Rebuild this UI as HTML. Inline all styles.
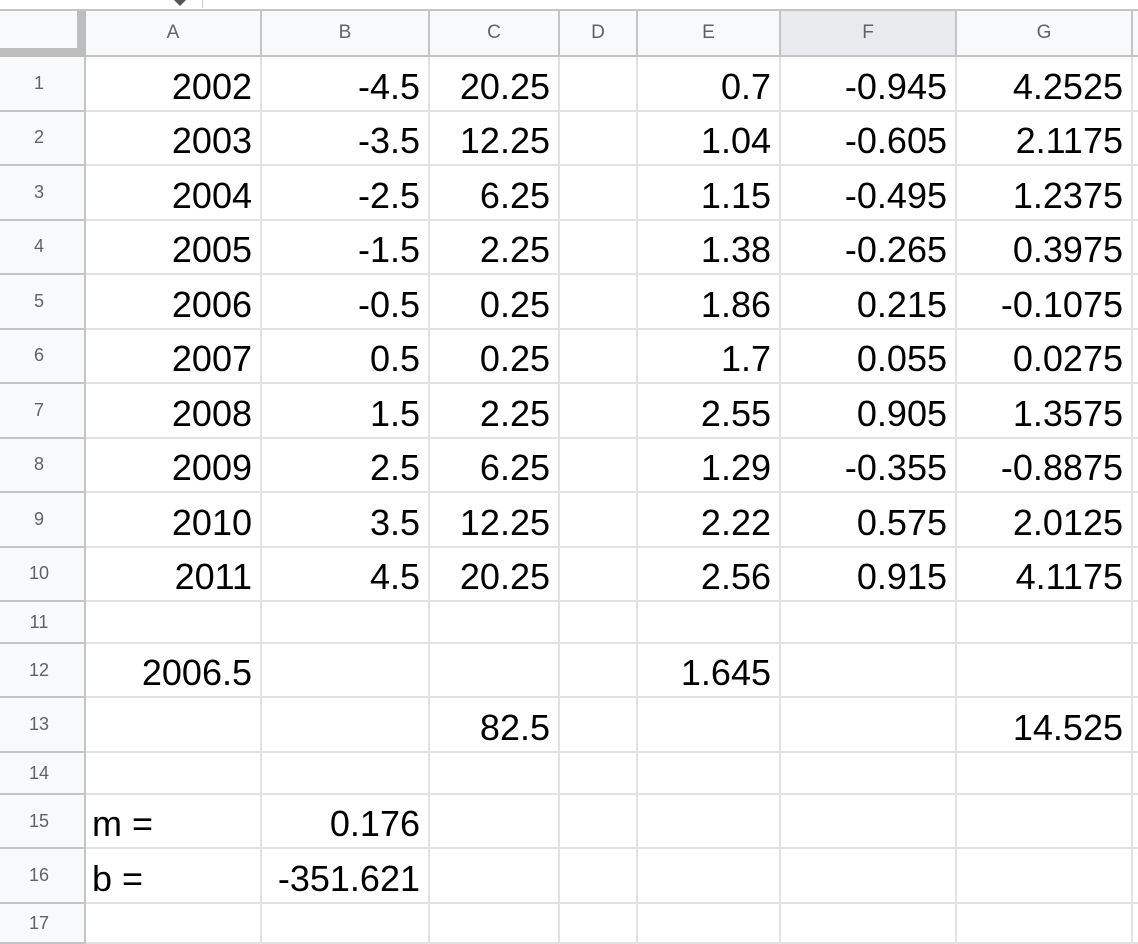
<!DOCTYPE html>
<html><head><meta charset="utf-8">
<style>
html,body{margin:0;padding:0;background:#fff;}
body{width:1138px;height:926px;overflow:hidden;position:relative;font-family:"Liberation Sans",Arial,sans-serif;}
.c{position:absolute;box-sizing:border-box;border-right:2px solid #e2e2e2;border-bottom:2px solid #e2e2e2;}
.v{position:absolute;right:8px;bottom:3px;font-size:36px;color:#000;line-height:40px;white-space:nowrap;}
.v.l{right:auto;left:6px;}
.h{position:absolute;box-sizing:border-box;background:#f8f9fa;border-right:2px solid #c4c4c4;border-bottom:2px solid #c4c4c4;color:#5f6368;font-size:19px;display:flex;align-items:center;justify-content:center;}
.r{position:absolute;box-sizing:border-box;background:#f8f9fa;border-bottom:2px solid #c4c4c4;color:#5f6368;font-size:18px;display:flex;align-items:center;justify-content:center;}
</style></head>
<body>
<div style="position:absolute;left:0;top:0;width:1138px;height:9px;background:#fff;border-bottom:2px solid #c4c4c4;"></div>
<div style="position:absolute;left:174px;top:0;width:0;height:0;border-left:6px solid transparent;border-right:6px solid transparent;border-top:6px solid #555;"></div>
<div style="position:absolute;left:202px;top:0;width:1px;height:8px;background:#ccc;"></div>
<div id="grid"></div>
<script>
const colEdges=[86,262,430,560,638,781,957,1133,1160];
const colLetters=['A','B','C','D','E','F','G',''];
const rowHeights=[54.5,54.5,54.5,54.5,54.5,54.5,54.5,54.5,54.5,54.5,42,54,55,42,54,55,40];
const cells={
1:['2002','-4.5','20.25','','0.7','-0.945','4.2525'],
2:['2003','-3.5','12.25','','1.04','-0.605','2.1175'],
3:['2004','-2.5','6.25','','1.15','-0.495','1.2375'],
4:['2005','-1.5','2.25','','1.38','-0.265','0.3975'],
5:['2006','-0.5','0.25','','1.86','0.215','-0.1075'],
6:['2007','0.5','0.25','','1.7','0.055','0.0275'],
7:['2008','1.5','2.25','','2.55','0.905','1.3575'],
8:['2009','2.5','6.25','','1.29','-0.355','-0.8875'],
9:['2010','3.5','12.25','','2.22','0.575','2.0125'],
10:['2011','4.5','20.25','','2.56','0.915','4.1175'],
12:['2006.5','','','','1.645','',''],
13:['','','82.5','','','','14.525'],
15:['m =','0.176','','','','',''],
16:['b =','-351.621','','','','','']
};
const g=document.getElementById('grid');
const corner=document.createElement('div');


corner.style.cssText='position:absolute;left:0;top:11px;width:86px;height:46px;background:#f8f9fa;box-sizing:border-box;border-right:9px solid #bdbdbd;border-bottom:9px solid #bdbdbd;';
g.appendChild(corner);
for(let i=0;i<colLetters.length;i++){
  const d=document.createElement('div');
  d.className='h';
  
  
  d.style.left=colEdges[i]+'px';d.style.top='11px';
  d.style.width=(colEdges[i+1]-colEdges[i])+'px';d.style.height='46px';
  if(colLetters[i]==='F')d.style.background='#e8eaed';
  d.textContent=colLetters[i];
  g.appendChild(d);
}
let y=57;
for(let r=0;r<rowHeights.length;r++){
  const h=rowHeights[r];const rn=r+1;
  const rh=document.createElement('div');
  rh.className='r';
  
  
  rh.style.left='0px';rh.style.top=y+'px';rh.style.width='78px';rh.style.height=h+'px';
  rh.textContent=rn;
  g.appendChild(rh);
  const sep=document.createElement('div');
  
  
  sep.style.cssText='position:absolute;left:78px;width:8px;background:#f8f9fa;border-right:2px solid #c4c4c4;border-bottom:2px solid #c4c4c4;box-sizing:border-box;top:'+y+'px;height:'+h+'px;';
  g.appendChild(sep);
  for(let c=0;c<colLetters.length;c++){
    const d=document.createElement('div');
    d.className='c';
    
    
    d.style.left=colEdges[c]+'px';d.style.top=y+'px';
    d.style.width=(colEdges[c+1]-colEdges[c])+'px';d.style.height=h+'px';
    const val=cells[rn]&&cells[rn][c];
    if(val){
      const s=document.createElement('span');
      s.className='v'+(/=/.test(val)?' l':'');
      
      
      s.textContent=val;
      d.appendChild(s);
    }
    g.appendChild(d);
  }
  y+=h;
}
</script>
</body></html>
